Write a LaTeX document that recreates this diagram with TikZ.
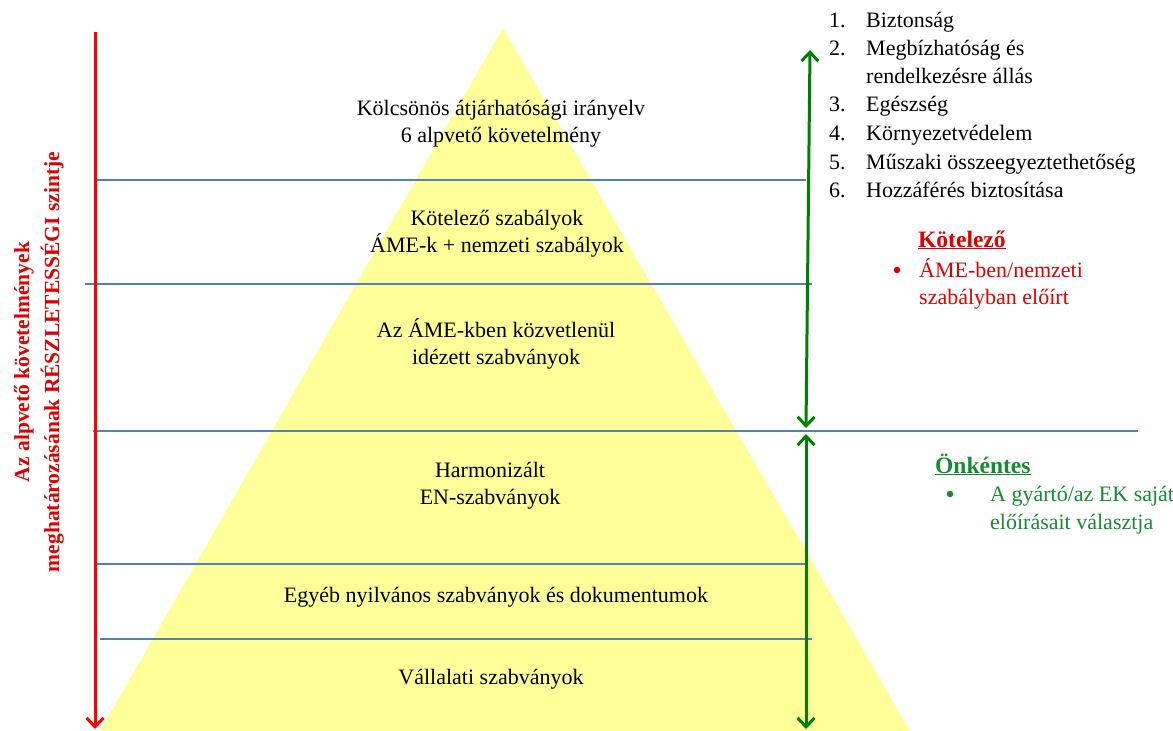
\documentclass[tikz,border=0pt]{standalone}
\usepackage{fontspec}
\setmainfont{Liberation Serif}
\usetikzlibrary{arrows.meta}
\definecolor{pyr}{RGB}{255,255,153}
\definecolor{bl}{RGB}{79,129,189}
\definecolor{rd}{RGB}{255,0,0}
\definecolor{rdt}{RGB}{225,0,0}
\definecolor{gr}{RGB}{0,128,0}
\definecolor{grt}{RGB}{20,140,50}
\tikzset{
  lvl/.style={font=\fontsize{22}{27}\selectfont, align=center, text=black, inner sep=0pt},
  blline/.style={draw=bl, line width=1.3pt},
  lst/.style={font=\fontsize{22}{28}\selectfont, anchor=base west, inner sep=0pt},
  hdr/.style={font=\bfseries\fontsize{23.5}{28}\selectfont, anchor=base west, inner sep=0pt},
  bul/.style={circle, inner sep=0pt, minimum size=6.5pt},
  redarr/.style={draw=rd, line width=3pt, -{Straight Barb[length=9pt,width=17pt,line width=3pt]}},
  grarr/.style={draw=gr, line width=3pt, {Straight Barb[length=9pt,width=17pt,line width=3pt]}-{Straight Barb[length=9pt,width=17pt,line width=3pt]}},
}
\begin{document}
\begin{tikzpicture}[x=1pt,y=-1pt]
\useasboundingbox (0,0) rectangle (1173,731);
% pyramid
\coordinate (apex) at (503,28);
\coordinate (bl0) at (100,731);
\coordinate (br0) at (910,731);
\fill[pyr] (apex) -- (br0) -- (bl0) -- cycle;
% horizontal lines
\coordinate (h1a) at (97,180);  \coordinate (h1b) at (806,180);
\coordinate (h2a) at (85,284);  \coordinate (h2b) at (812,284);
\coordinate (h3a) at (93,431);  \coordinate (h3b) at (1138,431);
\coordinate (h4a) at (97,564);  \coordinate (h4b) at (806,564);
\coordinate (h5a) at (100,639); \coordinate (h5b) at (812,639);
\draw[blline] (h1a) -- (h1b);
\draw[blline] (h2a) -- (h2b);
\draw[blline] (h3a) -- (h3b);
\draw[blline] (h4a) -- (h4b);
\draw[blline] (h5a) -- (h5b);
% red arrow
\coordinate (rtop) at (95,32);
\coordinate (rbot) at (95,729);
\draw[redarr] (rtop) -- (rbot);
% green arrows
\coordinate (gtop) at (810,50);
\coordinate (gmid1) at (806,428);
\coordinate (gmid2) at (806,434);
\coordinate (gbot) at (806,729);
\draw[grarr] (gtop) -- (gmid1);
\draw[grarr] (gmid2) -- (gbot);
% left rotated label
\node[rotate=90, align=center, text=rdt, font=\bfseries\fontsize{21.5}{30}\selectfont, inner sep=0pt] (side) at (39,362)
  {Az alpvető követelmények\\meghatározásának RÉSZLETESSÉGI szintje};
% pyramid levels
\node[lvl] (l1) at (501,124) {Kölcsönös átjárhatósági irányelv\\6 alpvető követelmény};
\node[lvl] (l2) at (497,234) {Kötelező szabályok\\ÁME-k + nemzeti szabályok};
\node[lvl] (l3) at (496,344) {Az ÁME-kben közvetlenül\\idézett szabványok};
\node[lvl] (l4) at (490,486) {Harmonizált\\EN-szabványok};
\node[lvl, anchor=base] (l5) at (496,602) {Egyéb nyilvános szabványok és dokumentumok};
\node[lvl, anchor=base] (l6) at (491,684) {Vállalati szabványok};
% right list
\node[lst] (n1) at (829,27) {1.};  \node[lst] (t1) at (866,27) {Biztonság};
\node[lst] (n2) at (829,55) {2.};  \node[lst] (t2) at (866,55) {Megbízhatóság és};
\node[lst] (t2b) at (866,83) {rendelkezésre állás};
\node[lst] (n3) at (829,111) {3.}; \node[lst] (t3) at (866,111) {Egészség};
\node[lst] (n4) at (829,140) {4.}; \node[lst] (t4) at (866,140) {Környezetvédelem};
\node[lst] (n5) at (829,169) {5.}; \node[lst] (t5) at (866,169) {Műszaki összeegyeztethetőség};
\node[lst] (n6) at (829,197) {6.}; \node[lst] (t6) at (866,197) {Hozzáférés biztosítása};
% Kötelező
\node[hdr, text=rdt] (k) at (918,247) {\underline{Kötelező}};
\node[bul, fill=rdt] (kb) at (897,270) {};
\node[lst, text=rdt] (k1) at (919,277) {ÁME-ben/nemzeti};
\node[lst, text=rdt] (k2) at (919,304) {szabályban előírt};
% Önkéntes
\node[hdr, text=grt] (o) at (935,473) {\underline{Önkéntes}};
\node[bul, fill=grt] (ob) at (950,494) {};
\node[lst, text=grt] (o1) at (990,501) {A gyártó/az EK saját};
\node[lst, text=grt] (o2) at (990,529) {előírásait választja};
\end{tikzpicture}
\end{document}
